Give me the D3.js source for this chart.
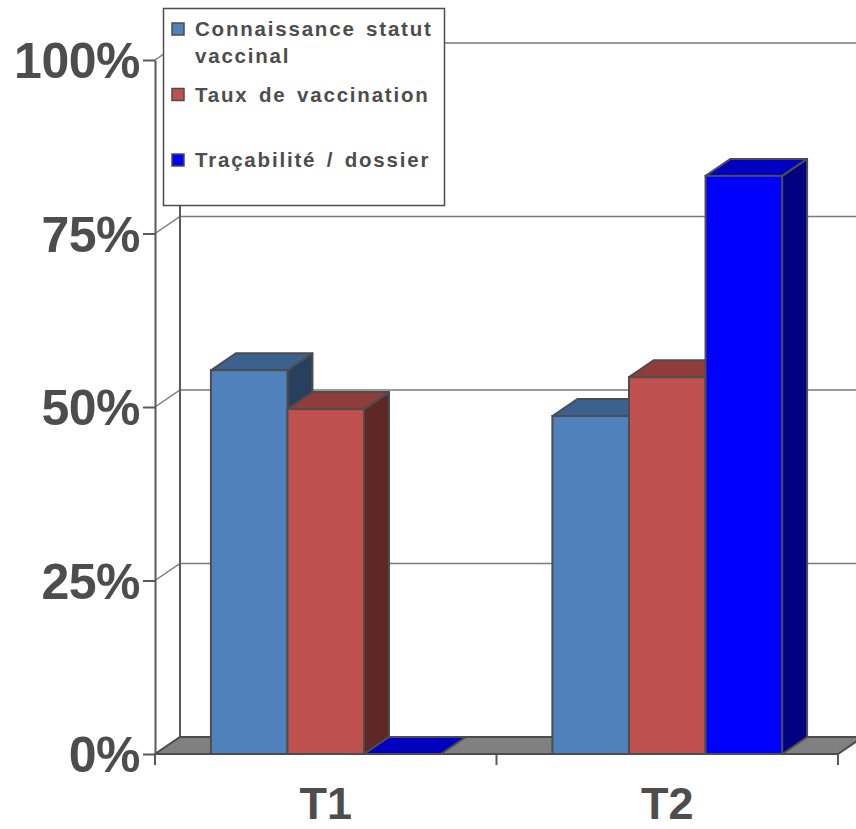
<!DOCTYPE html>
<html>
<head>
<meta charset="utf-8">
<script src="https://cdn.jsdelivr.net/npm/d3@7"></script>
<style>
body { margin: 0; background: #fff; }
text { font-family: "Liberation Sans", Arial, sans-serif; font-weight: bold; fill: #4d4d4d; }
</style>
</head>
<body>
<div id="chart"></div>
<script>
var categories = ["T1", "T2"];
var series = ["Connaissance statut vaccinal", "Taux de vaccination", "Traçabilité / dossier"];
var connaissance = [55.3, 48.7];
var vaccination = [49.7, 54.3];
var tracabilite = [0, 83.3];
var yTicks = [0, 25, 50, 75, 100];

var legendLines = [["Connaissance statut", "vaccinal"], ["Taux de vaccination"], ["Traçabilité / dossier"]];
var values = [connaissance, vaccination, tracabilite];
var frontColors = ["#4f81bd", "#c0504d", "#0000ff"];
var topColors = ["#3b618e", "#8f3c3a", "#0000c0"];
var sideColors = ["#283f5e", "#5e2826", "#000080"];

var w = 856;
var h = 829;
var dx = 25;
var dy = 17;
var edge = "#4d4d4d";

var svg = d3.
select("#chart").
append("svg").
attr("width", w).
attr("height", h);

var y = d3.scaleLinear().domain([0, 100]).range([754, 60]);
var x0 = d3.scaleBand().domain(categories).range([155, 838]);
var x1 = d3.scaleBand().domain(series).range([0, x0.bandwidth()]).paddingOuter(0.73);

// back wall + side wall gridlines
svg.
selectAll(".grid").
data(yTicks).
enter().
append("polyline").
attr("class", "grid").
attr("fill", "none").
attr("stroke", "#7a7a7a").
attr("stroke-width", 1.5).
attr("points", function (d) {
	return [[155, y(d)], [155 + dx, y(d) - dy], [838 + dx, y(d) - dy]].join(" ");
});

svg.
append("line").
attr("x1", 155 + dx).
attr("x2", 155 + dx).
attr("y1", y(0) - dy).
attr("y2", y(100) - dy).
attr("stroke", "#595959").
attr("stroke-width", 2);

// floor
svg.
append("polygon").
attr("points", [[155, y(0)], [838, y(0)], [838 + dx, y(0) - dy], [155 + dx, y(0) - dy]].join(" ")).
attr("fill", "#808080").
attr("stroke", edge).
attr("stroke-width", 2);

var bars = [];
categories.forEach(function (c, i) {
	series.forEach(function (s, j) {
		bars.push({cat: c, ser: s, k: j, v: values[j][i]});
	});
});

var bar = svg.
selectAll(".bar").
data(bars).
enter().
append("g").
attr("class", "bar");

function geom(d) {
	var x = x0(d.cat) + x1(d.ser);
	return {x: x, bw: x1.bandwidth(), yt: y(d.v), yb: y(0)};
}

bar.
append("polygon").
attr("fill", function (d) {return sideColors[d.k];}).
attr("stroke", edge).
attr("stroke-width", 2).
attr("stroke-linejoin", "round").
attr("points", function (d) {
	var g = geom(d);
	return [[g.x + g.bw, g.yt], [g.x + g.bw + dx, g.yt - dy], [g.x + g.bw + dx, g.yb - dy], [g.x + g.bw, g.yb]].join(" ");
});

bar.
append("polygon").
attr("fill", function (d) {return topColors[d.k];}).
attr("stroke", edge).
attr("stroke-width", 2).
attr("stroke-linejoin", "round").
attr("points", function (d) {
	var g = geom(d);
	return [[g.x, g.yt], [g.x + dx, g.yt - dy], [g.x + g.bw + dx, g.yt - dy], [g.x + g.bw, g.yt]].join(" ");
});

bar.
append("rect").
attr("fill", function (d) {return frontColors[d.k];}).
attr("stroke", edge).
attr("stroke-width", 2).
attr("x", function (d) {return geom(d).x;}).
attr("y", function (d) {return geom(d).yt;}).
attr("width", x1.bandwidth()).
attr("height", function (d) {return y(0) - y(d.v);});

// y axis
var yAxis = svg.
append("g").
attr("transform", "translate(155,0)").
call(d3.axisLeft(y).tickValues(yTicks).tickFormat(function (d) {return d + "%";}).tickSize(12).tickSizeOuter(0).tickPadding(3));

yAxis.select(".domain").attr("stroke", "#595959").attr("stroke-width", 2);
yAxis.selectAll(".tick line").attr("stroke", "#595959").attr("stroke-width", 2);
yAxis.selectAll("text").style("font-size", "50px").attr("dy", "0.35em").style("letter-spacing", "-0.5px");

// x axis
var xAxis = svg.
append("g").
attr("transform", "translate(0," + y(0) + ")").
call(d3.axisBottom(x0).tickSize(0).tickPadding(0));

xAxis.select(".domain").remove();
xAxis.selectAll("text").style("font-size", "45px").attr("y", 65).attr("dy", null);

var bounds = [x0.range()[0]].concat(categories.map(function (c) {return x0(c) + x0.bandwidth();}));
svg.
selectAll(".xtick").
data(bounds).
enter().
append("line").
attr("class", "xtick").
attr("x1", function (d) {return d;}).
attr("x2", function (d) {return d;}).
attr("y1", y(0)).
attr("y2", y(0) + 11).
attr("stroke", "#595959").
attr("stroke-width", 2);

// legend
var legend = svg.append("g");

legend.
append("rect").
attr("x", 163.5).
attr("y", 8.5).
attr("width", 281).
attr("height", 197).
attr("fill", "#fff").
attr("stroke", edge).
attr("stroke-width", 1.5);

var item = legend.
selectAll(".item").
data(series).
enter().
append("g").
attr("class", "item").
attr("transform", function (d, i) {return "translate(0," + (36 + i * 65.5) + ")";});

item.
append("rect").
attr("x", 172).
attr("y", -13).
attr("width", 12).
attr("height", 12).
attr("fill", function (d, i) {return frontColors[i];}).
attr("stroke", edge).
attr("stroke-width", 1.5);

item.
append("text").
style("font-size", "20.5px").
style("letter-spacing", "1.8px").
style("word-spacing", "3px").
selectAll("tspan").
data(function (d, i) {return legendLines[i];}).
enter().
append("tspan").
attr("x", 195).
attr("y", function (d, i) {return i * 27;}).
text(function (d) {return d;});
</script>
</body>
</html>
